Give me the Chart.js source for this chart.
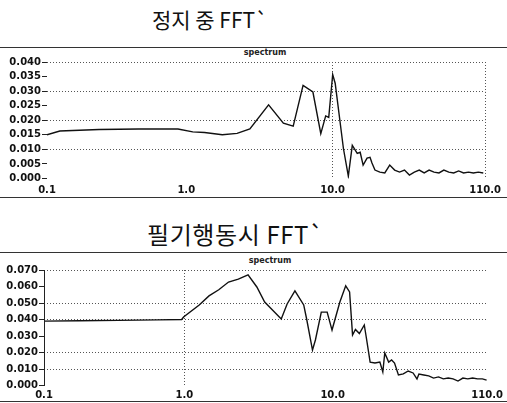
<!DOCTYPE html>
<html><head><meta charset="utf-8">
<script src="https://cdn.jsdelivr.net/npm/chart.js@4.4.1/dist/chart.umd.min.js"></script>
<style>
html,body{margin:0;padding:0;background:#fff;width:507px;height:403px;overflow:hidden;}
body{position:relative;font-family:"Noto Sans CJK KR","Noto Sans",sans-serif;}
.t{position:absolute;font-size:21px;line-height:1;color:#111;white-space:nowrap;}
.sub{position:absolute;font:bold 8px "DejaVu Sans",sans-serif;color:#222;transform:translateX(-50%);line-height:1;}
.rule{position:absolute;left:0;width:507px;height:1px;background:#333;}
.vax{position:absolute;width:1px;background:#222;}
canvas{position:absolute;left:0;}
</style></head><body>
<div class="t" style="left:152px;top:9px;">정지 중 FFT`</div>
<div class="rule" style="top:47px;"></div>
<div class="sub" style="left:265px;top:49px;">spectrum</div>
<canvas id="c1" width="507" height="158" style="top:44px;width:507px;height:158px;"></canvas>
<div class="rule" style="top:197px;"></div>

<div class="t" style="left:147px;top:222px;font-size:24px;letter-spacing:0.6px;">필기행동시 FFT`</div>
<div class="rule" style="top:252px;"></div>
<div class="sub" style="left:270px;top:257px;">spectrum</div>
<canvas id="c2" width="507" height="153" style="top:250px;width:507px;height:153px;"></canvas>
<div class="vax" style="left:44px;top:270px;height:116px;"></div>
<div class="rule" style="top:401px;"></div>

<script>
// x tick labels shown on both charts
const xTickLabels = ['0.1', '1.0', '10.0', '110.0'];

// Chart 1: at rest (정지 중)
const stillFreq = [0.112,0.137,0.254,0.473,0.878,1.108,1.334,1.763,2.224,2.720,3.650,4.605,5.376,6.277,7.328,8.295,8.960,9.4,10.0,10.4,11.84,12.79,13.61,14.71,15.41,16.14,17.17,17.99,18.55,19.44,21.00,22.69,24.52,26.49,28.62,30.93,33.42,36.11,39.01,42.15,45.55,49.21,53.18,57.45,62.08,67.07,72.47,78.31,84.61,91.42,98.77,106.7];
const stillAmp  = [0.0150,0.0163,0.0168,0.0170,0.0170,0.0160,0.0158,0.0150,0.0155,0.0170,0.0253,0.0190,0.0180,0.0320,0.0297,0.0154,0.0215,0.0210,0.0357,0.0327,0.0103,0.0008,0.0114,0.0086,0.0090,0.0046,0.0070,0.0073,0.0053,0.0029,0.0022,0.0019,0.0046,0.0029,0.0022,0.0029,0.0012,0.0022,0.0029,0.0019,0.0029,0.0022,0.0019,0.0029,0.0022,0.0019,0.0026,0.0019,0.0022,0.0019,0.0022,0.0019];

// Chart 2: while writing (필기행동시)
const writeFreq = [0.113,0.195,0.358,0.656,0.958,0.987,1.258,1.464,1.704,1.983,2.308,2.685,3.078,3.475,3.923,4.496,4.925,5.559,6.373,6.668,7.302,7.641,8.372,9.170,9.890,11.17,12.23,12.99,13.60,14.23,15.12,16.32,16.82,17.87,19.27,20.79,21.76,22.43,23.83,24.94,26.10,27.73,29.91,32.27,34.81,36.98,38.12,41.12,44.36,47.86,51.63,55.69,60.07,64.80,69.91,75.42,81.36,87.77,94.67,102.1,109.0];
const writeAmp  = [0.0390,0.0392,0.0395,0.0398,0.0400,0.0415,0.0488,0.0543,0.0580,0.0627,0.0645,0.0670,0.0597,0.0506,0.0458,0.0403,0.0494,0.0573,0.0488,0.0403,0.0215,0.0276,0.0445,0.0445,0.0336,0.0506,0.0604,0.0567,0.0306,0.0340,0.0315,0.0367,0.0294,0.0142,0.0136,0.0142,0.0082,0.0197,0.0142,0.0155,0.0136,0.0064,0.0070,0.0088,0.0076,0.0040,0.0070,0.0064,0.0058,0.0045,0.0052,0.0040,0.0045,0.0040,0.0027,0.0045,0.0040,0.0045,0.0040,0.0040,0.0033];

const tickFont = {family: 'DejaVu Sans', size: 10, weight: 'bold'};
const gridCol = '#555';

function makeChart(id, freq, amp, cfg) {
  const pts = freq.map((f, i) => ({x: f, y: amp[i]}));
  const xTicks = [cfg.xmin, 1, 10, cfg.xmax];
  return new Chart(document.getElementById(id), {
    type: 'line',
    data: {datasets: [{data: pts, borderColor: '#111', borderWidth: 1.4, pointRadius: 0, tension: 0, fill: false}]},
    options: {
      responsive: false, animation: false, devicePixelRatio: 1,
      layout: {padding: {left: 0, right: cfg.padRight, top: cfg.padTop, bottom: 1.5}},
      plugins: {legend: {display: false}, tooltip: {enabled: false}, title: {display: false}},
      scales: {
        x: {
          type: 'logarithmic', min: cfg.xmin, max: cfg.xmax,
          afterBuildTicks: s => { s.ticks = xTicks.map(v => ({value: v})); },
          afterFit: s => { s.height = cfg.xHeight; },
          border: {display: false, dash: [1, 2]},
          grid: {drawTicks: false, lineWidth: 1,
                 color: c => cfg.vLines.includes(c.index) ? gridCol : 'rgba(0,0,0,0)'},
          ticks: {autoSkip: false, maxRotation: 0, padding: cfg.xPad, color: '#111', font: tickFont,
                  callback: (v, i) => xTickLabels[i]}
        },
        y: {
          min: 0, max: cfg.ymax,
          afterFit: s => { s.width = cfg.yWidth; },
          border: {display: false, dash: [1, 2]},
          grid: {drawTicks: true, tickLength: 5, lineWidth: 1,
                 tickColor: '#222', tickBorderDash: [],
                 color: c => cfg.hGrid(c.tick.value) ? gridCol : 'rgba(0,0,0,0)'},
          ticks: {stepSize: cfg.ystep, autoSkip: false, padding: 1, color: '#111', font: tickFont,
                  callback: v => v.toFixed(3)}
        }
      }
    }
  });
}

const near = (v, list) => list.some(a => Math.abs(v - a) < 1e-6);

makeChart('c1', stillFreq, stillAmp, {
  xmin: 0.112, xmax: 110, ymax: 0.040, ystep: 0.005,
  padRight: 15, padTop: 18, xHeight: 22, xPad: 6, yWidth: 47,
  vLines: [2, 3],
  hGrid: v => near(v, [0.01, 0.02, 0.03, 0.04])
});

makeChart('c2', writeFreq, writeAmp, {
  xmin: 0.113, xmax: 110, ymax: 0.070, ystep: 0.010,
  padRight: 9, padTop: 20, xHeight: 16, xPad: 4, yWidth: 44,
  vLines: [1],
  hGrid: v => near(v, [0.01, 0.02, 0.04, 0.05, 0.07])
});
</script>
</body></html>
